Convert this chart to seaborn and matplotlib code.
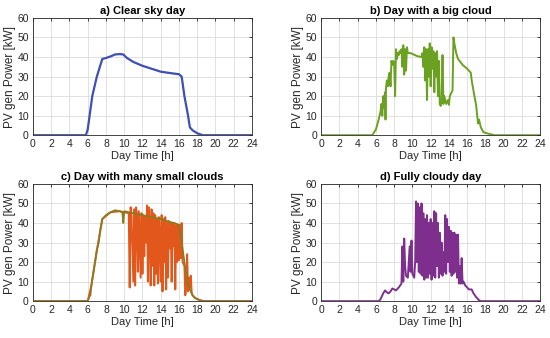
import matplotlib
matplotlib.use("Agg")
import matplotlib.pyplot as plt
import seaborn as sns
import pandas as pd

# ---------------- data ----------------
titles = ["a) Clear sky day", "b) Day with a big cloud",
          "c) Day with many small clouds", "d) Fully cloudy day"]
x_ticks = list(range(0, 25, 2))
y_ticks = list(range(0, 61, 10))

clear_t = [0, 5.8, 6.0, 6.5, 7.0, 7.6, 8.0, 8.5, 9.0, 9.5, 9.9, 10.3, 11.0, 12.0,
           13.0, 14.0, 15.0, 16.0, 16.3, 16.6, 17.0, 17.2, 17.5, 18.0, 18.6, 24]
clear_p = [0, 0, 3, 20, 30, 39, 39.5, 40.3, 41.3, 41.5, 41.3, 39.5, 37.5, 35.5,
           34, 32.5, 31.8, 31.2, 30, 20, 10, 4, 2.5, 1, 0, 0]

bigcloud_t = [0, 5.6, 6.0, 6.3, 6.5, 6.6, 6.7, 6.8, 6.9, 7.0, 7.05, 7.1, 7.2, 7.3,
              7.4, 7.5, 7.6, 7.7, 7.8, 7.9, 8.0, 8.1, 8.2, 8.3, 8.4, 8.5, 8.6, 8.7,
              8.8, 8.9, 9.0, 9.1, 9.2, 9.3, 9.4, 9.5, 9.8, 10.5, 11.0, 11.1, 11.2,
              11.3, 11.4, 11.5, 11.6, 11.7, 11.8, 11.9, 12.0, 12.1, 12.2, 12.3, 12.4,
              12.5, 12.6, 12.7, 12.8, 12.9, 13.0, 13.1, 13.2, 13.3, 13.4, 13.5, 13.7,
              13.9, 14.0, 14.1, 14.3, 14.4, 14.5, 14.6, 14.8, 15.0, 15.5, 16.0, 16.4,
              16.5, 16.8, 17.0, 17.1, 17.2, 17.3, 17.5, 17.8, 18.3, 19.0, 24]
bigcloud_p = [0, 0, 3, 8, 12, 16, 10, 20, 14, 22, 8, 24, 28, 25,
              30, 32, 25, 38, 36, 38, 37, 20, 44, 39, 42, 41, 43, 42,
              44, 35, 46, 31, 44, 33, 45, 42, 42, 40.5, 40, 42, 35,
              45, 28, 44, 18, 44, 30, 47, 25, 45, 34, 43, 22,
              42, 30, 43, 20, 38, 16, 15, 17, 41, 16, 20, 16,
              18, 15.5, 20, 22, 23, 50, 47, 42, 39, 36, 34, 32,
              28, 20, 15, 10, 6, 8, 4, 1.5, 0.8, 0, 0]

smooth_t = [0, 6.0, 6.2, 6.3, 6.4, 6.6, 6.8, 7.0, 7.2, 7.4, 7.6, 8.0, 8.5, 9.0, 9.5,
            9.8, 9.9, 10.0, 10.5, 11.0, 12.0, 13.0, 14.0, 15.0, 15.5, 16.0, 16.3,
            16.6, 16.9, 17.2, 17.5, 17.8, 18.3, 18.7, 24]
smooth_p = [0, 0, 2.5, 3, 8, 14, 20, 26, 30, 37, 42, 44, 45.5, 46.5, 46,
            45.5, 40, 46, 45.5, 45, 44, 43, 42, 40.5, 40, 39, 30,
            20, 10, 6, 3, 1.5, 0.5, 0, 0]

spiky_t = [0, 6.0, 6.4, 7.0, 7.6, 8.5, 9.5, 10.5, 10.6, 10.7, 10.8, 11.0, 11.1, 11.2,
           11.3, 11.4, 11.5, 11.6, 11.8, 11.9, 12.0, 12.1, 12.2, 12.3, 12.4, 12.5,
           12.6, 12.7, 12.8, 12.9, 13.0, 13.1, 13.2, 13.3, 13.4, 13.5, 13.6, 13.7,
           13.8, 13.9, 14.0, 14.1, 14.2, 14.3, 14.4, 14.5, 14.6, 14.7, 14.8, 14.9,
           15.0, 15.1, 15.2, 15.3, 15.4, 15.5, 15.6, 15.7, 15.8, 15.9, 16.0, 16.1,
           16.2, 16.3, 16.4, 16.6, 16.7, 16.8, 16.9, 17.0, 17.1, 17.2, 17.3, 17.4,
           17.5, 17.8, 18.3, 18.7, 24]
spiky_p = [0, 0, 8, 26, 42, 45.5, 46, 45, 7, 48, 44, 10, 47, 8,
           48, 44, 15, 46, 12, 45, 14, 44, 23, 43, 30, 49,
           10, 48, 35, 8, 47, 18, 45, 8, 44, 14, 42, 9,
           43, 30, 10, 44, 5, 42, 20, 43, 6, 40, 12, 41,
           27, 40, 10, 40, 28, 39, 6, 39, 20, 39, 21, 39,
           22, 40, 20, 18, 3, 8, 24, 5, 12, 7, 13, 4,
           3, 1.5, 0.5, 0, 0]

cloudy_t = [0, 6.3, 6.5, 6.8, 7.0, 7.2, 7.4, 7.6, 7.8, 8.0, 8.2, 8.5, 8.8, 8.9, 9.0,
            9.1, 9.2, 9.3, 9.5, 9.7, 9.8, 9.9, 10.0, 10.2, 10.3, 10.4, 10.5, 10.6,
            10.7, 10.8, 10.9, 11.0, 11.1, 11.2, 11.3, 11.4, 11.5, 11.6, 11.7, 11.8,
            11.9, 12.0, 12.1, 12.2, 12.3, 12.4, 12.5, 12.6, 12.7, 12.8, 12.9, 13.0,
            13.1, 13.2, 13.3, 13.4, 13.5, 13.6, 13.7, 13.8, 13.9, 14.0, 14.1, 14.2,
            14.3, 14.4, 14.5, 14.6, 14.7, 14.8, 14.9, 15.0, 15.1, 15.2, 15.3, 15.4,
            15.5, 15.6, 15.8, 16.0, 16.2, 16.5, 16.7, 17.0, 17.3, 17.5, 24]
cloudy_p = [0, 0, 1, 4, 5.5, 4.5, 4, 5, 6.5, 6, 5.5, 7, 9, 28, 10,
            32, 18, 13, 12, 28, 15, 31, 14, 12, 20, 51, 20, 50,
            15, 48, 14, 50, 13, 45, 11, 42, 12, 44, 12, 40,
            14, 42, 11, 40, 13, 46, 12, 45, 18, 40, 12, 35,
            14, 30, 13, 25, 15, 44, 14, 42, 20, 38, 15, 36,
            13, 35, 14, 35, 15, 34, 12, 34, 9, 18, 9, 22,
            9, 10, 8, 7, 6, 6, 4, 2, 0.5, 0, 0]

# ---------------- style ----------------
sns.set_style("white")
plt.rcParams["font.family"] = ["Liberation Sans", "DejaVu Sans"]

fig = plt.figure(figsize=(5.5, 3.38), dpi=100)
positions = [
    [0.060, 0.600, 0.398, 0.347],
    [0.584, 0.600, 0.398, 0.347],
    [0.060, 0.109, 0.398, 0.347],
    [0.584, 0.109, 0.398, 0.347],
]
axes = [fig.add_axes(p) for p in positions]

def draw(ax, t, p, color, lw=1.2, z=2):
    df = pd.DataFrame({"t": t, "p": p})
    sns.lineplot(data=df, x="t", y="p", ax=ax, color=color, lw=lw,
                 estimator=None, sort=False, zorder=z)

draw(axes[0], clear_t, clear_p, "#3f4fb2", lw=1.6)
draw(axes[1], bigcloud_t, bigcloud_p, "#6aa121", lw=1.4)
draw(axes[2], spiky_t, spiky_p, "#e2571c", lw=1.4, z=2)
draw(axes[2], smooth_t, smooth_p, "#8c7a1e", lw=1.3, z=3)
draw(axes[3], cloudy_t, cloudy_p, "#7e2f8e", lw=1.4)

for ax, title in zip(axes, titles):
    ax.set_xlim(0, 24)
    ax.set_ylim(0, 60)
    ax.set_xticks(x_ticks)
    ax.set_yticks(y_ticks)
    ax.grid(True, color="#dcdcdc", lw=0.6)
    ax.set_axisbelow(True)
    ax.tick_params(direction="in", length=2.5, width=0.6, labelsize=7.5,
                   colors="#262626", pad=3)
    ax.tick_params(top=True, right=True, labeltop=False, labelright=False)
    for s in ax.spines.values():
        s.set_color("#262626")
        s.set_linewidth(0.6)
    ax.set_title(title, fontsize=8, fontweight="bold", pad=2.5, color="black")
    ax.set_xlabel("Day Time [h]", fontsize=8, color="#262626", labelpad=1)
    ax.set_ylabel("PV gen Power [kW]", fontsize=8.5, color="#262626", labelpad=1)

fig.savefig("out.png", dpi=100)
